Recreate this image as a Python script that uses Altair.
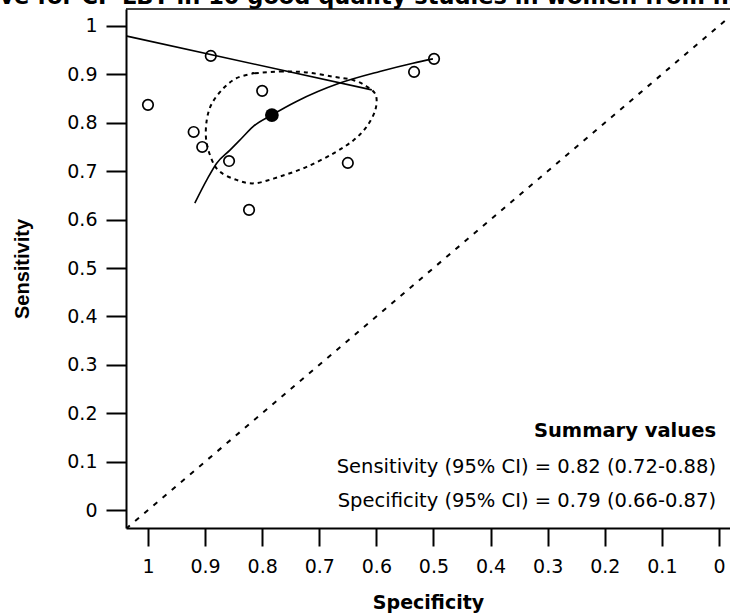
import altair as alt
import pandas as pd

# ---- data ----
study_spec = [1.000, 0.890, 0.920, 0.905, 0.858, 0.800, 0.823, 0.650, 0.534, 0.499]
study_sens = [0.837, 0.938, 0.781, 0.750, 0.721, 0.866, 0.620, 0.717, 0.905, 0.932]

summary_spec = [0.783]
summary_sens = [0.816]

sroc_spec = [0.918, 0.897, 0.880, 0.856, 0.836, 0.816, 0.783, 0.740, 0.664, 0.594, 0.536, 0.501]
sroc_sens = [0.634, 0.682, 0.716, 0.744, 0.768, 0.792, 0.816, 0.844, 0.882, 0.906, 0.923, 0.932]

line_spec = [1.037, 0.608]
line_sens = [0.979, 0.868]

ell_spec = [0.816, 0.769, 0.722, 0.675, 0.640, 0.617, 0.601, 0.602, 0.617, 0.640, 0.675,
            0.722, 0.769, 0.813, 0.845, 0.874, 0.888, 0.898, 0.897, 0.888, 0.868, 0.845, 0.816]
ell_sens = [0.902, 0.906, 0.904, 0.895, 0.888, 0.875, 0.857, 0.826, 0.792, 0.764, 0.737,
            0.709, 0.689, 0.675, 0.682, 0.699, 0.723, 0.764, 0.806, 0.840, 0.871, 0.892, 0.902]

diag_spec = [1.0385, -0.0193]
diag_sens = [-0.0385, 1.0193]

x_ticks = [1, 0.9, 0.8, 0.7, 0.6, 0.5, 0.4, 0.3, 0.2, 0.1, 0]
y_ticks = [0, 0.1, 0.2, 0.3, 0.4, 0.5, 0.6, 0.7, 0.8, 0.9, 1]

title_text = "SROC curve for CF-LBT in 10 good quality studies in women from north India"
summary_lines = ["Summary values",
                 "Sensitivity (95% CI) = 0.82 (0.72-0.88)",
                 "Specificity (95% CI) = 0.79 (0.66-0.87)"]

W, H = 604, 519

xs = alt.Scale(domain=[1.0385, -0.0193], nice=False, zero=False)
ys = alt.Scale(domain=[-0.037, 1.035], nice=False, zero=False)

xaxis = alt.Axis(values=x_ticks, format="~g", grid=False, labelFlush=False, labelOverlap=False,
                 labelFont="DejaVu Sans", labelFontSize=19, labelColor="black", labelPadding=11,
                 tickSize=18, tickWidth=2, tickColor="black", domainWidth=2, domainColor="black",
                 title="Specificity", titleFont="DejaVu Sans", titleFontSize=19,
                 titleFontWeight="bold", titleColor="black", titleY=80, titleBaseline="alphabetic")
yaxis = alt.Axis(values=y_ticks, format="~g", grid=False, labelFlush=False, labelOverlap=False,
                 labelFont="DejaVu Sans", labelFontSize=19, labelColor="black", labelPadding=9,
                 tickSize=20, tickWidth=2, tickColor="black", domainWidth=2, domainColor="black",
                 title="Sensitivity", titleFont="Liberation Sans", titleFontSize=20,
                 titleFontWeight="bold", titleColor="black", titleX=-98, titleBaseline="alphabetic")

X = alt.X("spec:Q", scale=xs, axis=xaxis)
Y = alt.Y("sens:Q", scale=ys, axis=yaxis)

diag_df = pd.DataFrame({"spec": diag_spec, "sens": diag_sens})
diag = alt.Chart(diag_df).mark_line(color="black", strokeWidth=2, strokeDash=[5, 7], clip=True).encode(x=X, y=Y)

line_df = pd.DataFrame({"spec": line_spec, "sens": line_sens})
sline = alt.Chart(line_df).mark_line(color="black", strokeWidth=1.6).encode(x=X, y=Y)

sroc_df = pd.DataFrame({"spec": sroc_spec, "sens": sroc_sens, "i": list(range(len(sroc_spec)))})
sroc = alt.Chart(sroc_df).mark_line(color="black", strokeWidth=1.6, interpolate="monotone").encode(
    x=X, y=Y, order="i:Q")

ell_df = pd.DataFrame({"spec": ell_spec, "sens": ell_sens, "i": list(range(len(ell_spec)))})
ell = alt.Chart(ell_df).mark_line(color="black", strokeWidth=2, strokeDash=[4, 4],
                                  interpolate="cardinal-closed").encode(x=X, y=Y, order="i:Q")

st_df = pd.DataFrame({"spec": study_spec, "sens": study_sens})
pts = alt.Chart(st_df).mark_point(shape="circle", filled=False, color="black", size=110,
                                  strokeWidth=1.7, opacity=1).encode(x=X, y=Y)

sm_df = pd.DataFrame({"spec": summary_spec, "sens": summary_sens})
summ = alt.Chart(sm_df).mark_point(shape="circle", filled=True, color="black", size=190,
                                   opacity=1).encode(x=X, y=Y)

one = pd.DataFrame({"a": [0]})
border = alt.Chart(one).mark_rule(color="black", strokeWidth=1.3).encode(
    x=alt.value(0), x2=alt.value(W), y=alt.value(0))

title = alt.Chart(one).mark_text(align="left", baseline="alphabetic", font="DejaVu Sans",
                                 fontSize=22.5, fontWeight="bold", color="black").encode(
    x=alt.value(-244), y=alt.value(-5), text=alt.value(title_text))

t1 = alt.Chart(one).mark_text(align="right", baseline="alphabetic", font="DejaVu Sans",
                              fontSize=19.5, fontWeight="bold", color="black").encode(
    x=alt.value(590), y=alt.value(428), text=alt.value(summary_lines[0]))
t2 = alt.Chart(one).mark_text(align="right", baseline="alphabetic", font="DejaVu Sans",
                              fontSize=19.5, color="black").encode(
    x=alt.value(590), y=alt.value(464), text=alt.value(summary_lines[1]))
t3 = alt.Chart(one).mark_text(align="right", baseline="alphabetic", font="DejaVu Sans",
                              fontSize=19.5, color="black").encode(
    x=alt.value(590), y=alt.value(498), text=alt.value(summary_lines[2]))

chart = alt.layer(diag, sline, ell, sroc, pts, summ, border, title, t1, t2, t3).properties(
    width=W, height=H,
    autosize=alt.AutoSizeParams(type="none"),
    padding={"left": 126, "top": 9, "right": 0, "bottom": 88},
    background="white",
).configure_view(stroke=None)

chart.save("out.html", embed_options={"renderer": "svg", "actions": False})
